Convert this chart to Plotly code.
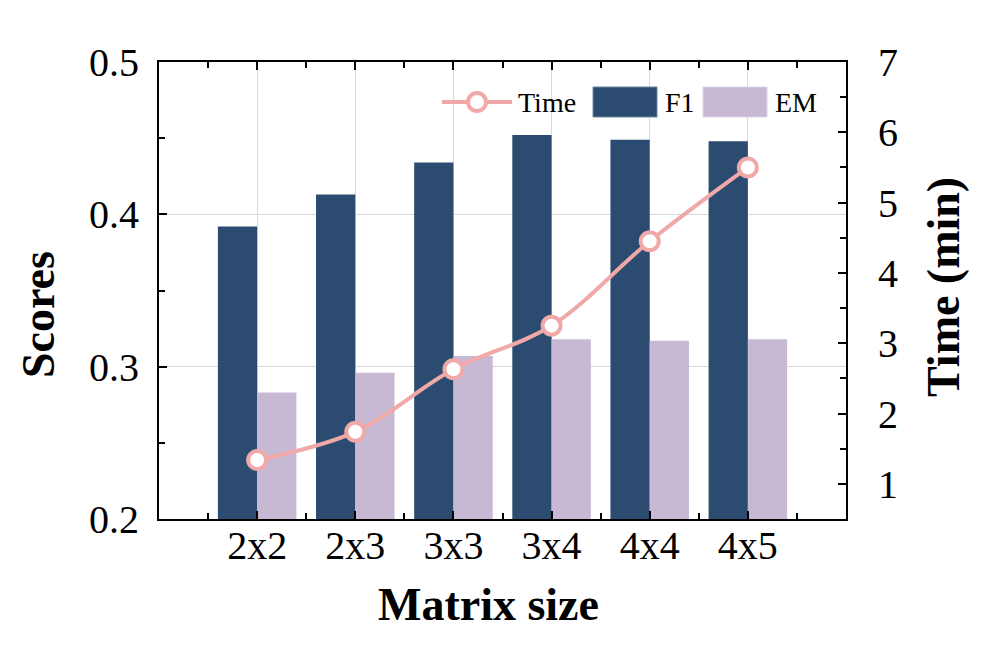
import plotly.graph_objects as go

categories = ["2x2", "2x3", "3x3", "3x4", "4x4", "4x5"]
f1_scores = [0.392, 0.413, 0.434, 0.452, 0.449, 0.448]
em_scores = [0.283, 0.296, 0.307, 0.318, 0.317, 0.318]
time_min = [1.34, 1.74, 2.63, 3.25, 4.45, 5.50]

xpos = list(range(len(categories)))

FONT = "Liberation Serif"
F1_COLOR = "#2b4c70"
EM_COLOR = "#c7b8d4"
LINE_COLOR = "#f0a8a8"

fig = go.Figure()
fig.add_trace(go.Bar(x=xpos, y=f1_scores, name="F1", marker=dict(color=F1_COLOR, line=dict(width=0))))
fig.add_trace(go.Bar(x=xpos, y=em_scores, name="EM", marker=dict(color=EM_COLOR, line=dict(width=0))))
fig.add_trace(go.Scatter(x=xpos, y=time_min, name="Time", yaxis="y2", mode="lines+markers",
                         line=dict(color=LINE_COLOR, width=4, shape="spline"),
                         marker=dict(size=18, color="white", line=dict(color=LINE_COLOR, width=4))))

# custom legend / titles (paper coordinates)
def px(X):
    return (X - 159) / 687.0

def py(Y):
    return (519 - Y) / 457.0

shapes = [
    dict(type="line", xref="paper", yref="paper", x0=px(442), x1=px(512), y0=py(102), y1=py(102),
         line=dict(color=LINE_COLOR, width=4)),
    dict(type="circle", xref="paper", yref="paper", xsizemode="pixel", ysizemode="pixel",
         xanchor=px(477), yanchor=py(102), x0=-9, x1=9, y0=-9, y1=9,
         fillcolor="white", line=dict(color=LINE_COLOR, width=4)),
    dict(type="rect", xref="paper", yref="paper", x0=px(593), x1=px(657), y0=py(117), y1=py(87),
         fillcolor=F1_COLOR, line=dict(color="#6d86a3", width=1)),
    dict(type="rect", xref="paper", yref="paper", x0=px(703), x1=px(767), y0=py(117), y1=py(87),
         fillcolor=EM_COLOR, line=dict(color="#ddd3e6", width=1)),
]
annotations = [
    dict(text=t, xref="paper", yref="paper", x=px(xx), y=py(102), xanchor="left", yanchor="middle",
         showarrow=False, font=dict(family=FONT, size=28, color="black"))
    for t, xx in [("Time", 516), ("F1", 663), ("EM", 773)]
]
title_font = dict(family=FONT, size=46, color="black")
annotations += [
    dict(text="<b>Matrix size</b>", xref="paper", yref="paper", x=px(488), y=py(604),
         xanchor="center", yanchor="middle", showarrow=False, font=title_font),
    dict(text="<b>Scores</b>", xref="paper", yref="paper", x=px(38), y=py(315),
         xanchor="center", yanchor="middle", showarrow=False, font=title_font, textangle=-90),
    dict(text="<b>Time (min)</b>", xref="paper", yref="paper", x=px(943), y=py(287),
         xanchor="center", yanchor="middle", showarrow=False, font=title_font, textangle=-90),
]

fig.update_layout(
    width=996, height=665,
    margin=dict(l=151, r=158, t=54, b=154),
    paper_bgcolor="white", plot_bgcolor="white",
    barmode="group", bargap=0.2, bargroupgap=0,
    font=dict(family=FONT, color="black"),
    showlegend=False,
    shapes=shapes,
    annotations=annotations,
    xaxis=dict(
        range=[-1, 6], tickmode="array", tickvals=xpos, ticktext=categories,
        tickfont=dict(family=FONT, size=40), showgrid=True, gridcolor="#d9d9d9", gridwidth=1,
        showline=True, linecolor="black", linewidth=2, mirror="ticks", ticklabelstandoff=-10,
        ticks="inside", ticklen=8, tickwidth=2, tickcolor="black",
        minor=dict(ticks="inside", tick0=-0.5, dtick=1, ticklen=6, tickwidth=2, tickcolor="black", showgrid=False),
        zeroline=False,
    ),
    yaxis=dict(
        range=[0.2, 0.5], tickmode="array", tickvals=[0.2, 0.3, 0.4, 0.5],
        ticktext=["0.2", "0.3", "0.4", "0.5"], ticklabelstandoff=10,
        tickfont=dict(family=FONT, size=40), showgrid=True, gridcolor="#d9d9d9", gridwidth=1,
        showline=True, linecolor="black", linewidth=2,
        ticks="inside", ticklen=8, tickwidth=2, tickcolor="black",
        minor=dict(ticks="inside", tick0=0.25, dtick=0.1, ticklen=6, tickwidth=2, tickcolor="black", showgrid=False),
        zeroline=False,
    ),
    yaxis2=dict(
        overlaying="y", side="right", range=[0.5, 7], tickmode="array",
        tickvals=[1, 2, 3, 4, 5, 6, 7], tickfont=dict(family=FONT, size=40), ticklabelstandoff=22,
        showgrid=False, showline=True, linecolor="black", linewidth=2,
        ticks="inside", ticklen=8, tickwidth=2, tickcolor="black",
        minor=dict(ticks="inside", tick0=0.5, dtick=1, ticklen=6, tickwidth=2, tickcolor="black"),
        zeroline=False,
    ),
)

fig.write_html("out.html")
